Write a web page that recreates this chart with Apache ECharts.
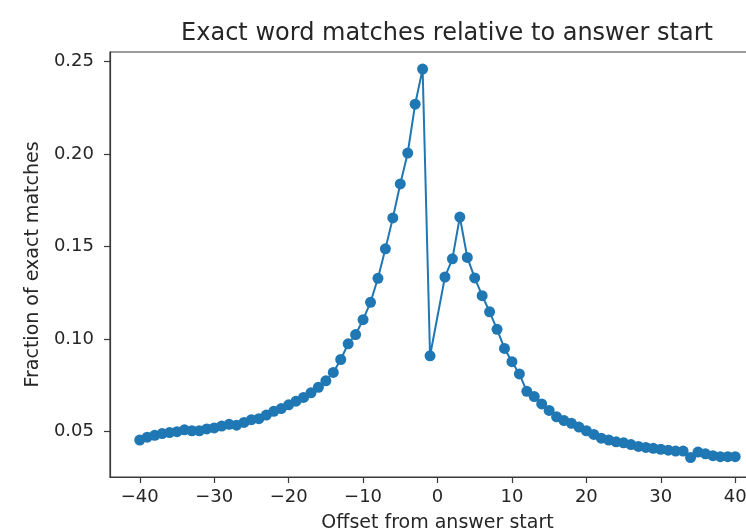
<!DOCTYPE html>
<html>
<head>
<meta charset="utf-8">
<script src="https://cdn.jsdelivr.net/npm/echarts@6/dist/echarts.min.js"></script>
<style>
  html, body { margin: 0; padding: 0; background: #ffffff; }
  #chart { width: 746px; height: 532px; }
</style>
</head>
<body>
<div id="chart"></div>
<script>
// Word offset relative to the answer start (offset 0 itself is not measured)
const offsets = [
  -40, -39, -38, -37, -36, -35, -34, -33, -32, -31,
  -30, -29, -28, -27, -26, -25, -24, -23, -22, -21,
  -20, -19, -18, -17, -16, -15, -14, -13, -12, -11,
  -10, -9, -8, -7, -6, -5, -4, -3, -2, -1,
  1, 2, 3, 4, 5, 6, 7, 8, 9, 10,
  11, 12, 13, 14, 15, 16, 17, 18, 19, 20,
  21, 22, 23, 24, 25, 26, 27, 28, 29, 30,
  31, 32, 33, 34, 35, 36, 37, 38, 39, 40
];

// Fraction of exact word matches at each offset
const fractions = [
  0.0455, 0.0470, 0.0480, 0.0490, 0.0495, 0.0500, 0.0510, 0.0505, 0.0505, 0.0515,
  0.0520, 0.0530, 0.0540, 0.0535, 0.0550, 0.0565, 0.0570, 0.0590, 0.0610, 0.0625,
  0.0645, 0.0665, 0.0685, 0.0710, 0.0740, 0.0775, 0.0820, 0.0890, 0.0975, 0.1025,
  0.1105, 0.1199, 0.1329, 0.1488, 0.1655, 0.1839, 0.2006, 0.2270, 0.2460, 0.0910,
  0.1336, 0.1434, 0.1660, 0.1442, 0.1331, 0.1235, 0.1148, 0.1053, 0.0950, 0.0878,
  0.0812, 0.0718, 0.0690, 0.0650, 0.0615, 0.0580, 0.0560, 0.0545, 0.0525, 0.0505,
  0.0485, 0.0465, 0.0455, 0.0445, 0.0440, 0.0430, 0.0420, 0.0415, 0.0410, 0.0405,
  0.0400, 0.0395, 0.0395, 0.0360, 0.0390, 0.0380, 0.0370, 0.0365, 0.0365, 0.0365
];

const xTicks = [-40, -30, -20, -10, 0, 10, 20, 30, 40];
const yTicks = [0.05, 0.10, 0.15, 0.20, 0.25];

const titleText = 'Exact word matches relative to answer start';
const xName = 'Offset from answer start';
const yName = 'Fraction of exact matches';

const points = offsets.map((x, i) => [x, fractions[i]]);

const FONT = 'DejaVu Sans';
const INK = '#262626';
const SPINE = '#3a3a3a';
const BLUE = '#1f77b4';

const chart = echarts.init(document.getElementById('chart'), null, { renderer: 'canvas' });

chart.setOption({
  backgroundColor: '#ffffff',
  animation: false,
  title: {
    text: titleText,
    left: 442,
    top: 17,
    textAlign: 'center',
    textStyle: { fontFamily: FONT, fontSize: 24, fontWeight: 'normal', color: INK }
  },
  grid: {
    left: 110,
    top: 52,
    width: 655,
    height: 425,
    outerBoundsMode: 'none',
    containLabel: false,
    show: true,
    borderColor: SPINE,
    borderWidth: 1.2,
    backgroundColor: 'transparent'
  },
  xAxis: {
    type: 'value',
    min: -44,
    max: 44,
    name: xName,
    nameLocation: 'middle',
    nameGap: 37,
    nameTextStyle: { fontFamily: FONT, fontSize: 19, color: INK },
    axisLine: { show: true, onZero: false, lineStyle: { color: SPINE, width: 1.2 } },
    axisTick: { show: true, inside: false, length: 6, customValues: xTicks, lineStyle: { color: SPINE, width: 1.2 } },
    axisLabel: {
      customValues: xTicks,
      margin: 11,
      fontFamily: FONT,
      fontSize: 18,
      color: INK,
      formatter: v => String(v).replace('-', '\u2212')
    },
    splitLine: { show: false }
  },
  yAxis: {
    type: 'value',
    min: 0.0255,
    max: 0.2552,
    name: yName,
    nameLocation: 'middle',
    nameGap: 67,
    nameRotate: 90,
    nameTextStyle: { fontFamily: FONT, fontSize: 19, color: INK },
    axisLine: { show: true, onZero: false, lineStyle: { color: SPINE, width: 1.2 } },
    axisTick: { show: true, inside: false, length: 6, customValues: yTicks, lineStyle: { color: SPINE, width: 1.2 } },
    axisLabel: {
      customValues: yTicks,
      margin: 16,
      fontFamily: FONT,
      fontSize: 18,
      color: INK,
      formatter: v => v.toFixed(2)
    },
    splitLine: { show: false }
  },
  series: [{
    type: 'line',
    data: points,
    symbol: 'circle',
    symbolSize: 11,
    showAllSymbol: true,
    itemStyle: { color: BLUE },
    lineStyle: { color: BLUE, width: 2 },
    clip: false
  }]
});
</script>
</body>
</html>
